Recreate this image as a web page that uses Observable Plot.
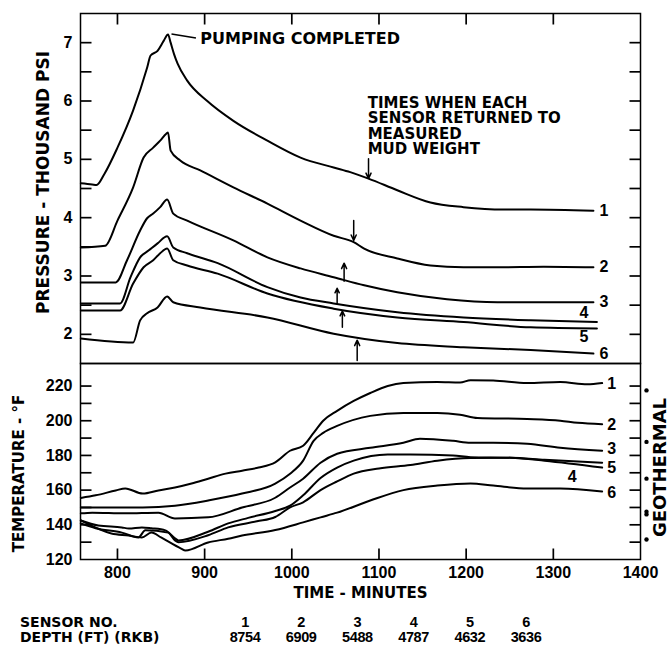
<!DOCTYPE html>
<html><head><meta charset="utf-8">
<script src="https://cdn.jsdelivr.net/npm/d3@7"></script>
<script src="https://cdn.jsdelivr.net/npm/@observablehq/plot@0.6"></script>
<style>
body{margin:0;background:#fff;}
#wrap{position:relative;width:669px;height:654px;background:#fff;overflow:hidden;}
#top{position:absolute;left:0;top:0;}
#bot{position:absolute;left:0;top:362px;}
.cell{position:absolute;font-weight:bold;color:#000;white-space:nowrap;line-height:14px;}
.lab{font-family:"DejaVu Sans",sans-serif;font-size:14px;}
.num{font-family:"Liberation Sans",Arial,sans-serif;font-size:14.5px;letter-spacing:-0.4px;transform:translateX(-50%);}
</style></head>
<body><div id="wrap"><div id="top"></div><div id="bot"></div><div id="table"></div></div>
<script>
// ---- data ----
const sensors = ["1","2","3","4","5","6"];
const depths = ["8754","6909","5488","4787","4632","3636"];
const tableLabels = ["SENSOR NO.", "DEPTH (FT) (RKB)"];
const timeTicks = [800, 900, 1000, 1100, 1200, 1300];
const timeLabels = [800, 900, 1000, 1100, 1200, 1300, 1400];
const pressureTicks = [2, 2.5, 3, 3.5, 4, 4.5, 5, 5.5, 6, 6.5, 7];
const pressureLabels = [2, 3, 4, 5, 6, 7];
const temperatureTicks = [130, 140, 150, 160, 170, 180, 190, 200, 210, 220];
const temperatureLabels = [120, 140, 160, 180, 200, 220];

const pressure1 = [[758,4.59],[771,4.57],[776,4.56],[785,4.75],[800,5.2],[818,5.84],[834,6.57],[838,6.78],[846,6.86],[853,7.03],[858,7.14],[861,7.0],[865,6.8],[869,6.64],[880,6.35],[903,6.0],[933,5.66],[972,5.32],[1010,5.03],[1048,4.86],[1067,4.78],[1088,4.67],[1121,4.47],[1159,4.26],[1197,4.18],[1243,4.14],[1274,4.14],[1346,4.12]];
const pressure2 = [[758,3.49],[786,3.52],[800,3.95],[818,4.52],[830,5.03],[841,5.2],[849,5.32],[856,5.44],[858,5.46],[861,5.15],[872,4.98],[895,4.81],[933,4.52],[972,4.24],[1010,3.95],[1048,3.69],[1071,3.58],[1083,3.47],[1121,3.30],[1159,3.18],[1197,3.15],[1236,3.15],[1289,3.16],[1346,3.15]];
const pressure3 = [[758,2.89],[798,2.89],[811,3.27],[826,3.78],[834,3.99],[841,4.07],[849,4.18],[857,4.31],[864,4.07],[880,3.95],[933,3.61],[972,3.32],[1010,3.13],[1048,2.98],[1083,2.84],[1121,2.72],[1178,2.60],[1236,2.55],[1311,2.55],[1346,2.55]];
const pressure4 = [[758,2.53],[803,2.53],[815,2.98],[826,3.32],[836,3.44],[846,3.56],[857,3.68],[864,3.49],[880,3.39],[915,3.22],[972,2.81],[1010,2.63],[1048,2.53],[1121,2.38],[1197,2.29],[1274,2.24],[1350,2.21]];
const pressure5 = [[758,2.41],[803,2.41],[818,2.87],[830,3.15],[841,3.27],[849,3.39],[857,3.47],[864,3.27],[880,3.18],[915,3.04],[972,2.70],[1048,2.44],[1121,2.29],[1197,2.21],[1274,2.12],[1350,2.10]];
const pressure6 = [[758,1.93],[818,1.86],[826,2.24],[834,2.36],[846,2.46],[857,2.65],[864,2.55],[895,2.46],[972,2.29],[1048,2.01],[1121,1.85],[1197,1.78],[1274,1.73],[1346,1.67]];

const temperature1 = [[758,155.5],[775,157],[798,159.8],[809,161],[829,158],[847,159.8],[866,161.5],[885,163.8],[904,166.6],[924,169.5],[943,171.2],[962,173],[981,176],[998,182.7],[1013,185.6],[1025,193],[1036,200],[1052,205.7],[1071,211.4],[1090,216],[1110,220],[1128,221.7],[1167,222.3],[1193,222],[1205,223.4],[1231,223.2],[1270,221.7],[1308,222.3],[1339,221],[1356,221.7]];
const temperature2 = [[758,150],[790,150],[829,150],[866,151],[904,154],[943,158],[981,163.8],[998,169.5],[1013,177],[1025,188.4],[1036,193],[1052,197],[1090,202.8],[1128,204.5],[1167,204.5],[1193,203.5],[1213,201.6],[1270,201],[1308,200],[1328,198.8],[1356,198]];
const temperature3 = [[758,146.6],[771,147],[809,146.6],[847,147],[866,143.7],[904,144.3],[943,150],[981,155.6],[998,161.5],[1013,166.6],[1033,175.8],[1052,181],[1090,184.4],[1128,187.3],[1147,189.6],[1185,188.4],[1205,187.3],[1231,187.3],[1270,186.7],[1308,184.4],[1356,182.7]];
const temperature4 = [[758,142.5],[778,139.6],[805,138.5],[813,137.9],[828,138.5],[839,138],[855,136.8],[866,132.2],[870,131],[904,136],[927,140.8],[950,144],[981,148],[998,151],[1013,157],[1033,167],[1052,173],[1071,177],[1110,180.5],[1136,180.5],[1185,180],[1205,179],[1251,178.7],[1290,177],[1356,173]];
const temperature5 = [[758,140.8],[775,138],[805,135.5],[824,132.7],[832,136.8],[858,135.5],[866,131],[870,130],[904,134],[927,138.5],[960,142],[981,144.5],[998,150],[1013,153],[1033,160],[1052,165],[1071,169.5],[1100,172.5],[1136,174.5],[1167,177],[1205,178.5],[1251,178.7],[1290,177.5],[1356,175.8]];
const temperature6 = [[758,142.5],[793,135],[813,133.8],[828,132.7],[839,135.5],[850,132.7],[873,126.3],[878,125.2],[904,129.8],[927,132],[943,133.8],[981,137],[1013,141.4],[1033,144.3],[1052,147],[1090,154],[1128,160],[1167,162.6],[1205,163.8],[1231,162.6],[1270,160.9],[1308,160.9],[1356,159.2]];

// times each sensor returned to measured mud weight: [time, from, to]
const mudArrows = [[1088,5.01,4.67],[1071,3.95,3.61],[1060,2.91,3.22],[1052,2.53,2.79],[1058,2.12,2.40],[1075,1.55,1.90]];
const geothermal = [217.5, 187.8, 166.6, 147.6, 146.0, 131.5];

// ---- build tables ----
const pSeries = [pressure1, pressure2, pressure3, pressure4, pressure5, pressure6];
const tSeries = [temperature1, temperature2, temperature3, temperature4, temperature5, temperature6];
const rows = series => series.flatMap((s, i) => s.map(([t, v]) => ({sensor: sensors[i], t, v})));
const ends = series => series.map((s, i) => ({sensor: sensors[i], t: s[s.length-1][0], v: s[s.length-1][1]}));
const pRows = rows(pSeries), tRows = rows(tSeries);
const pEnds = ends(pSeries), tEnds = ends(tSeries);

const X_DOMAIN = [757.6, 1400];
const P_DOMAIN = [1.5, 7.5];
const T_DOMAIN = [120, 233];
const BOLD = "DejaVu Sans, sans-serif";
const ARIAL = "Liberation Sans, Arial, sans-serif";
const plain = d => String(d);
const TICK = {stroke: "black", strokeWidth: 1.7};
// tick length ≈ 11 px expressed in each axis' units
const xTick = (X_DOMAIN[1] - X_DOMAIN[0]) * 11 / 560;
const pTick = (P_DOMAIN[1] - P_DOMAIN[0]) * 11 / 350;
const tTick = (T_DOMAIN[1] - T_DOMAIN[0]) * 11 / 196;
const yTicks = (vals, x0, x1) => Plot.link(vals, {x1: () => x0, x2: () => x1, y1: d => d, y2: d => d, ...TICK});
const xTicks = (vals, y0, y1) => Plot.link(vals, {x1: d => d, x2: d => d, y1: () => y0, y2: () => y1, ...TICK});

const topPlot = Plot.plot({
  width: 669, height: 364,
  marginTop: 13, marginBottom: 1, marginLeft: 80, marginRight: 29,
  style: {background: "transparent", fontFamily: ARIAL, overflow: "visible"},
  x: {domain: X_DOMAIN, label: null, axis: null},
  y: {domain: P_DOMAIN, label: null, axis: null},
  marks: [
    Plot.frame({stroke: "black", strokeWidth: 1.5}),
    yTicks(pressureTicks, X_DOMAIN[0], X_DOMAIN[0] + xTick),
    yTicks(pressureTicks, X_DOMAIN[1] - xTick, X_DOMAIN[1]),
    xTicks(timeTicks, P_DOMAIN[1], P_DOMAIN[1] - pTick),
    Plot.axisY(pressureLabels, {anchor: "left", tickSize: 0, tickPadding: 8, tickFormat: plain, fontSize: 16, fontWeight: "bold", label: null}),
    Plot.line(pRows, {x: "t", y: "v", z: "sensor", stroke: "black", strokeWidth: 2, curve: "monotone-x"}),
    Plot.text(pEnds.filter(d => !["4","5"].includes(d.sensor)), {x: "t", y: "v", text: "sensor", textAnchor: "start", dx: 6, fontSize: 16, fontWeight: "bold"}),
    Plot.text(pEnds.filter(d => d.sensor === "4"), {x: "t", y: "v", text: "sensor", dx: -13, dy: -9, fontSize: 16, fontWeight: "bold"}),
    Plot.text(pEnds.filter(d => d.sensor === "5"), {x: "t", y: "v", text: "sensor", dx: -13, dy: 8, fontSize: 16, fontWeight: "bold"}),
    Plot.arrow(mudArrows, {x: d => d[0], y1: d => d[1], y2: d => d[2], stroke: "black", strokeWidth: 1.5, headLength: 6, headAngle: 50}),
    Plot.link([[862, 7.15, 890, 7.08]], {x1: d => d[0], y1: d => d[1], x2: d => d[2], y2: d => d[3], stroke: "black", strokeWidth: 1.5}),
    Plot.text(["PUMPING COMPLETED"], {x: () => 895, y: () => 7.07, text: d => d, textAnchor: "start", fontSize: 16, fontWeight: "bold", fontFamily: BOLD}),
    Plot.text(["TIMES WHEN EACH\nSENSOR RETURNED TO\nMEASURED\nMUD WEIGHT"], {x: () => 1087, y: () => 6.07, text: d => d, textAnchor: "start", lineAnchor: "top", lineHeight: 1.03, fontSize: 15, fontWeight: "bold", fontFamily: BOLD}),
    Plot.text(["PRESSURE - THOUSAND PSI"], {frameAnchor: "left", text: d => d, textAnchor: "middle", lineAnchor: "middle", dx: -37, dy: -6, rotate: -90, fontSize: 17, fontWeight: "bold", fontFamily: BOLD})
  ]
});
document.getElementById("top").appendChild(topPlot);

const botPlot = Plot.plot({
  width: 669, height: 247,
  marginTop: 1, marginBottom: 50, marginLeft: 80, marginRight: 29,
  style: {background: "transparent", fontFamily: ARIAL, overflow: "visible"},
  x: {domain: X_DOMAIN, label: null, axis: null},
  y: {domain: T_DOMAIN, label: null, axis: null},
  marks: [
    Plot.frame({stroke: "black", strokeWidth: 1.5}),
    yTicks(temperatureTicks, X_DOMAIN[0], X_DOMAIN[0] + xTick),
    yTicks(temperatureTicks, X_DOMAIN[1] - xTick, X_DOMAIN[1]),
    xTicks(timeTicks, T_DOMAIN[0], T_DOMAIN[0] + tTick),
    Plot.axisY(temperatureLabels, {anchor: "left", tickSize: 0, tickPadding: 8, tickFormat: plain, fontSize: 16, fontWeight: "bold", label: null}),
    Plot.axisX(timeLabels, {anchor: "bottom", tickSize: 0, tickPadding: 7, tickFormat: plain, fontSize: 16, fontWeight: "bold", label: null}),
    Plot.line(tRows, {x: "t", y: "v", z: "sensor", stroke: "black", strokeWidth: 2, curve: "monotone-x"}),
    Plot.text(tEnds.filter(d => !["3","4","5"].includes(d.sensor)), {x: "t", y: "v", text: "sensor", textAnchor: "start", dx: 5, dy: 1, fontSize: 16, fontWeight: "bold"}),
    Plot.text(tEnds.filter(d => d.sensor === "3"), {x: "t", y: "v", text: "sensor", textAnchor: "start", dx: 5, dy: -2, fontSize: 16, fontWeight: "bold"}),
    Plot.text(tEnds.filter(d => d.sensor === "5"), {x: "t", y: "v", text: "sensor", textAnchor: "start", dx: 5, dy: 5, fontSize: 16, fontWeight: "bold"}),
    Plot.text(tEnds.filter(d => d.sensor === "4"), {x: "t", y: "v", text: "sensor", dx: -30, dy: 9, fontSize: 16, fontWeight: "bold"}),
    Plot.dot(geothermal, {x: () => 1400, y: d => d, dx: 6, r: 2.2, fill: "black", stroke: "none"}),
    Plot.text(["GEOTHERMAL"], {frameAnchor: "right", text: d => d, textAnchor: "middle", lineAnchor: "middle", dx: 20, dy: 6, rotate: -90, fontSize: 18, fontWeight: "bold", fontFamily: BOLD}),
    Plot.text(["TEMPERATURE - °F"], {frameAnchor: "left", text: d => d, textAnchor: "middle", lineAnchor: "middle", dx: -61, dy: 12, rotate: -90, fontSize: 15, fontWeight: "bold", fontFamily: BOLD}),
    Plot.text(["TIME - MINUTES"], {frameAnchor: "bottom", text: d => d, textAnchor: "middle", lineAnchor: "middle", dx: 0, dy: 34, fontSize: 15, fontWeight: "bold", fontFamily: BOLD})
  ]
});
document.getElementById("bot").appendChild(botPlot);

// ---- sensor table ----
const table = document.getElementById("table");
const rowTops = [615, 630];
tableLabels.forEach((lab, r) => {
  const d = document.createElement("div");
  d.className = "cell lab"; d.style.left = "20px"; d.style.top = rowTops[r] + "px"; d.textContent = lab;
  table.appendChild(d);
});
[sensors, depths].forEach((vals, r) => {
  vals.forEach((v, i) => {
    const d = document.createElement("div");
    d.className = "cell num"; d.style.left = (245 + i * 56.2) + "px"; d.style.top = rowTops[r] + "px"; d.textContent = v;
    table.appendChild(d);
  });
});
</script>
</body></html>
